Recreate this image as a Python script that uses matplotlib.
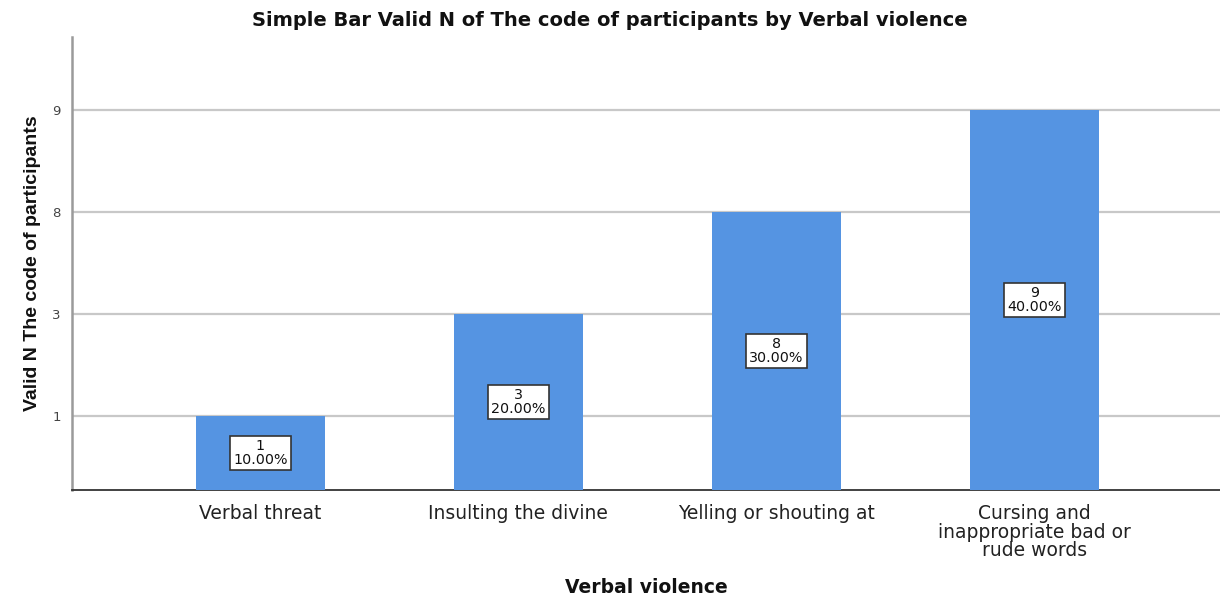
import numpy as np
import matplotlib
matplotlib.use("Agg")
import matplotlib.pyplot as plt
from matplotlib.scale import FuncScale

plt.rcParams['font.family'] = ['DejaVu Sans']

categories = ["Verbal threat", "Insulting the divine", "Yelling or shouting at",
              "Cursing and\ninappropriate bad or\nrude words"]
counts = [1, 3, 8, 9]
percents = [10.00, 20.00, 30.00, 40.00]

bar_color = "#5594E2"

# ordinal y scale: each distinct count gets an evenly spaced slot
levels = sorted(set(counts))
scale_vals = [0] + levels + [levels[-1] + 1]
scale_pos = list(range(len(scale_vals)))


def forward(v):
    return np.interp(v, scale_vals, scale_pos)


def inverse(p):
    return np.interp(p, scale_pos, scale_vals)


fig = plt.figure(figsize=(12.2, 5.99), dpi=100)
ax = fig.add_axes([72 / 1220, 109 / 599, 1148 / 1220, 453 / 599])
ax.set_yscale(FuncScale(ax, (forward, inverse)))

x = np.arange(len(categories))
ymin = inverse(0.2745)
ymax = inverse(4.716)
ax.bar(x, counts, width=0.5, bottom=ymin, color=bar_color, edgecolor="none", zorder=3)
# bar heights are measured from the axis floor
for b, c in zip(ax.patches, counts):
    b.set_height(c - ymin)

ax.set_xlim(-0.73, 3.72)
ax.set_ylim(ymin, ymax)

ax.set_yticks(levels)
ax.set_yticklabels([str(v) for v in levels])
ax.yaxis.set_minor_locator(matplotlib.ticker.NullLocator())
ax.tick_params(axis='y', length=0, labelsize=9.5, labelcolor="#444444", pad=8)
ax.set_xticks(x)
ax.set_xticklabels(categories, linespacing=0.98)
ax.tick_params(axis='x', length=0, labelsize=13.5, labelcolor="#222222", pad=10)

ax.grid(axis='y', color="#c8c8c8", linewidth=1.6, zorder=0)
ax.set_axisbelow(True)
for s in ("top", "right"):
    ax.spines[s].set_visible(False)
ax.spines["left"].set_color("#9a9a9a")
ax.spines["left"].set_linewidth(1.8)
ax.spines["bottom"].set_color("#333333")
ax.spines["bottom"].set_linewidth(1.3)

for xi, c, p in zip(x, counts, percents):
    mid = inverse((forward(c) + forward(ymin)) / 2)
    ax.text(xi, mid, f"{c}\n{p:.2f}%", ha="center", va="center", fontsize=10.3,
            color="#111111", linespacing=1.05, zorder=5,
            bbox=dict(boxstyle="square,pad=0.22", fc="white", ec="#333333", lw=1.2))

ax.set_ylabel("Valid N The code of participants", fontsize=14, fontweight="bold",
              color="#111111", labelpad=8, family="Liberation Sans")
ax.set_xlabel("Verbal violence", fontsize=13.5, fontweight="bold", color="#111111",
              labelpad=13)
fig.text(0.5, 1 - 20 / 599, "Simple Bar Valid N of The code of participants by Verbal violence",
         ha="center", va="center", fontsize=14, fontweight="bold", color="#111111")

fig.savefig("out.png", dpi=100)
